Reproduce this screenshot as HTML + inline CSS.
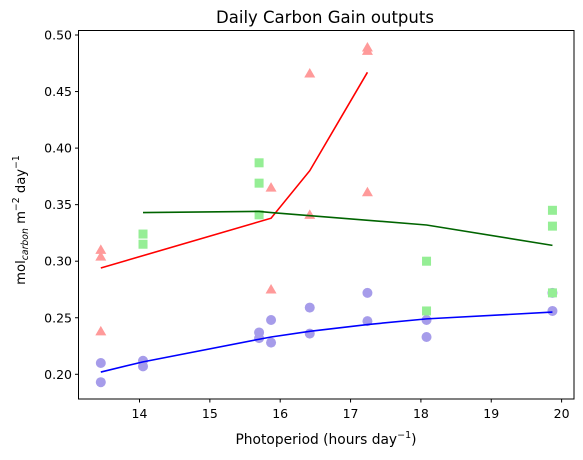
<!DOCTYPE html>
<html><head><meta charset="utf-8"><style>
html,body{margin:0;padding:0;background:#fff;}
svg{display:block;font-family:"DejaVu Sans","Liberation Sans",sans-serif;}
</style></head><body>
<svg id="chart" width="583" height="460" xmlns="http://www.w3.org/2000/svg">
<text x="325" y="23" font-size="16.5" text-anchor="middle">Daily Carbon Gain outputs</text>
<g id="plot"></g>
<rect x="78.5" y="30.5" width="495.5" height="368.5" fill="none" stroke="#000" stroke-width="1"/>
<text x="326" y="444" font-size="13.8" text-anchor="middle">Photoperiod (hours day<tspan dy="-6" font-size="9.5">−1</tspan><tspan dy="6">)</tspan></text>
<text transform="translate(25,220) rotate(-90)" font-size="13.2" text-anchor="middle">mol<tspan dy="3" font-size="9.3" font-style="italic">carbon</tspan><tspan dy="-3"> m</tspan><tspan dy="-6" font-size="9.3">−2</tspan><tspan dy="6"> day</tspan><tspan dy="-6" font-size="9.3">−1</tspan></text>
</svg>
<script>
const xTicks=[14,15,16,17,18,19,20];
const yTicks=[0.20,0.25,0.30,0.35,0.40,0.45,0.50];
const yTickLabels=["0.20","0.25","0.30","0.35","0.40","0.45","0.50"];
const blueX=[13.45,13.45,14.05,14.05,15.7,15.7,15.87,15.87,16.42,16.42,17.24,17.24,18.08,18.08,19.87,19.87];
const blueY=[0.210,0.193,0.212,0.207,0.237,0.232,0.248,0.228,0.259,0.236,0.272,0.247,0.248,0.233,0.272,0.256];
const blueLineX=[13.45,14.05,15.7,15.87,16.42,17.24,18.08,19.87];
const blueLineY=[0.202,0.211,0.231,0.233,0.238,0.244,0.249,0.255];
const greenX=[14.05,14.05,15.7,15.7,15.7,18.08,18.08,19.87,19.87,19.87];
const greenY=[0.324,0.315,0.387,0.369,0.341,0.300,0.256,0.345,0.331,0.272];
const greenLineX=[14.05,15.7,15.87,18.08,19.87];
const greenLineY=[0.343,0.344,0.343,0.332,0.314];
const redX=[13.45,13.45,13.45,15.87,15.87,16.42,16.42,17.24,17.24,17.24];
const redY=[0.310,0.304,0.238,0.365,0.275,0.466,0.341,0.489,0.486,0.361];
const redLineX=[13.45,15.87,16.42,17.24];
const redLineY=[0.294,0.338,0.380,0.467];

const NS="http://www.w3.org/2000/svg";
const sx=v=>139.5+(v-14)*70.35;
const sy=v=>374.3-(v-0.2)*1131;
const svg=document.getElementById('chart');
const plot=document.getElementById('plot');
function mk(tag,attrs,parent){const e=document.createElementNS(NS,tag);for(const k in attrs)e.setAttribute(k,attrs[k]);(parent||plot).appendChild(e);return e;}
xTicks.forEach(t=>{
  const g=mk('g',{},svg);
  
  
  mk('line',{x1:sx(t),x2:sx(t),y1:399,y2:402.5,stroke:'#000'},g);
  const tx=mk('text',{x:sx(t),y:418,'font-size':12.5,'text-anchor':'middle'},g);tx.textContent=t;
});
yTicks.forEach((t,i)=>{
  const g=mk('g',{},svg);
  
  
  mk('line',{x1:75,x2:78.5,y1:sy(t),y2:sy(t),stroke:'#000'},g);
  const tx=mk('text',{x:72,y:sy(t)+4.5,'font-size':12.5,'text-anchor':'end'},g);tx.textContent=yTickLabels[i];
});
function line(xs,ys,color,name){
  const p=mk('polyline',{points:xs.map((x,i)=>sx(x)+','+sy(ys[i])).join(' '),fill:'none',stroke:color,'stroke-width':1.6});
  
  
}
blueX.forEach((x,i)=>{
  const c=mk('circle',{cx:sx(x),cy:sy(blueY[i]),r:5,fill:'#a69cea'});
  
  
});
greenX.forEach((x,i)=>{
  const r=mk('rect',{x:sx(x)-4.5,y:sy(greenY[i])-4.5,width:9,height:9,fill:'#95ee95'});
  
  
});
redX.forEach((x,i)=>{
  const cx=sx(x),cy=sy(redY[i]);
  const t=mk('polygon',{points:`${cx},${cy-5.5} ${cx-5.5},${cy+4} ${cx+5.5},${cy+4}`,fill:'#ff9a9a'});
  
  
});
line(redLineX,redLineY,'#ff0000','red-trend-line');
line(greenLineX,greenLineY,'#006400','green-trend-line');
line(blueLineX,blueLineY,'#0000ff','blue-trend-line');
</script>
</body></html>
